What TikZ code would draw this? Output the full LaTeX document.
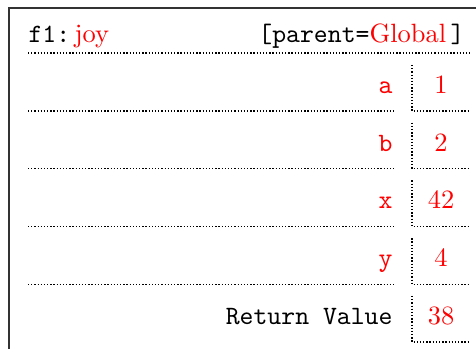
\documentclass[tikz,border=0pt]{standalone}
\usetikzlibrary{positioning}
\definecolor{ValClr}{rgb}{1,0,0}
\definecolor{FrameClr}{rgb}{0.2,0.2,0.2}

\begin{document}
\begin{tikzpicture}[x=0.378pt,y=-0.378pt,
  dotline/.style={line width=0.5pt,dash pattern=on 0.5pt off 0.7pt},
  val/.style={text=ValClr,inner sep=0pt,anchor=base},
  var/.style={text=ValClr,font=\ttfamily,inner sep=0pt,anchor=base east}]
\useasboundingbox (0,0) rectangle (476,349);
\clip (0,0) rectangle (476,349);
\draw[FrameClr,line width=0.8pt] (9,8) rectangle (490,360);

\node[inner sep=0pt,anchor=base west] (fname) at (28,43) {\texttt{f1:}\,\textcolor{ValClr}{joy}};
\node[inner sep=0pt,anchor=base east] (parent) at (465,43) {\texttt{[parent=}\textcolor{ValClr}{Global}\,\texttt{]}};
\draw[dotline] (28,53) -- (470,53);

\foreach \n/\v [count=\i from 0] in {a/1,b/2,x/42,y/4}{
  \pgfmathsetmacro\t{65+57.75*\i}
  \node[var] (var\n) at (393,\t+28.5) {\n};
  \node[val] (val\n) at (441,\t+28.5) {\v};
  \draw[dotline] (28,\t+46) -- (395,\t+46);
  \draw[dotline] (412,\t) -- (412,\t+46) -- (468,\t+46);
}

\node[inner sep=0pt,anchor=base east,font=\ttfamily] (ret) at (393,324.5) {Return Value};
\node[val] (valret) at (441,324.5) {38};
\draw[dotline] (412,296) -- (412,342) -- (468,342);

\end{tikzpicture}
\end{document}
